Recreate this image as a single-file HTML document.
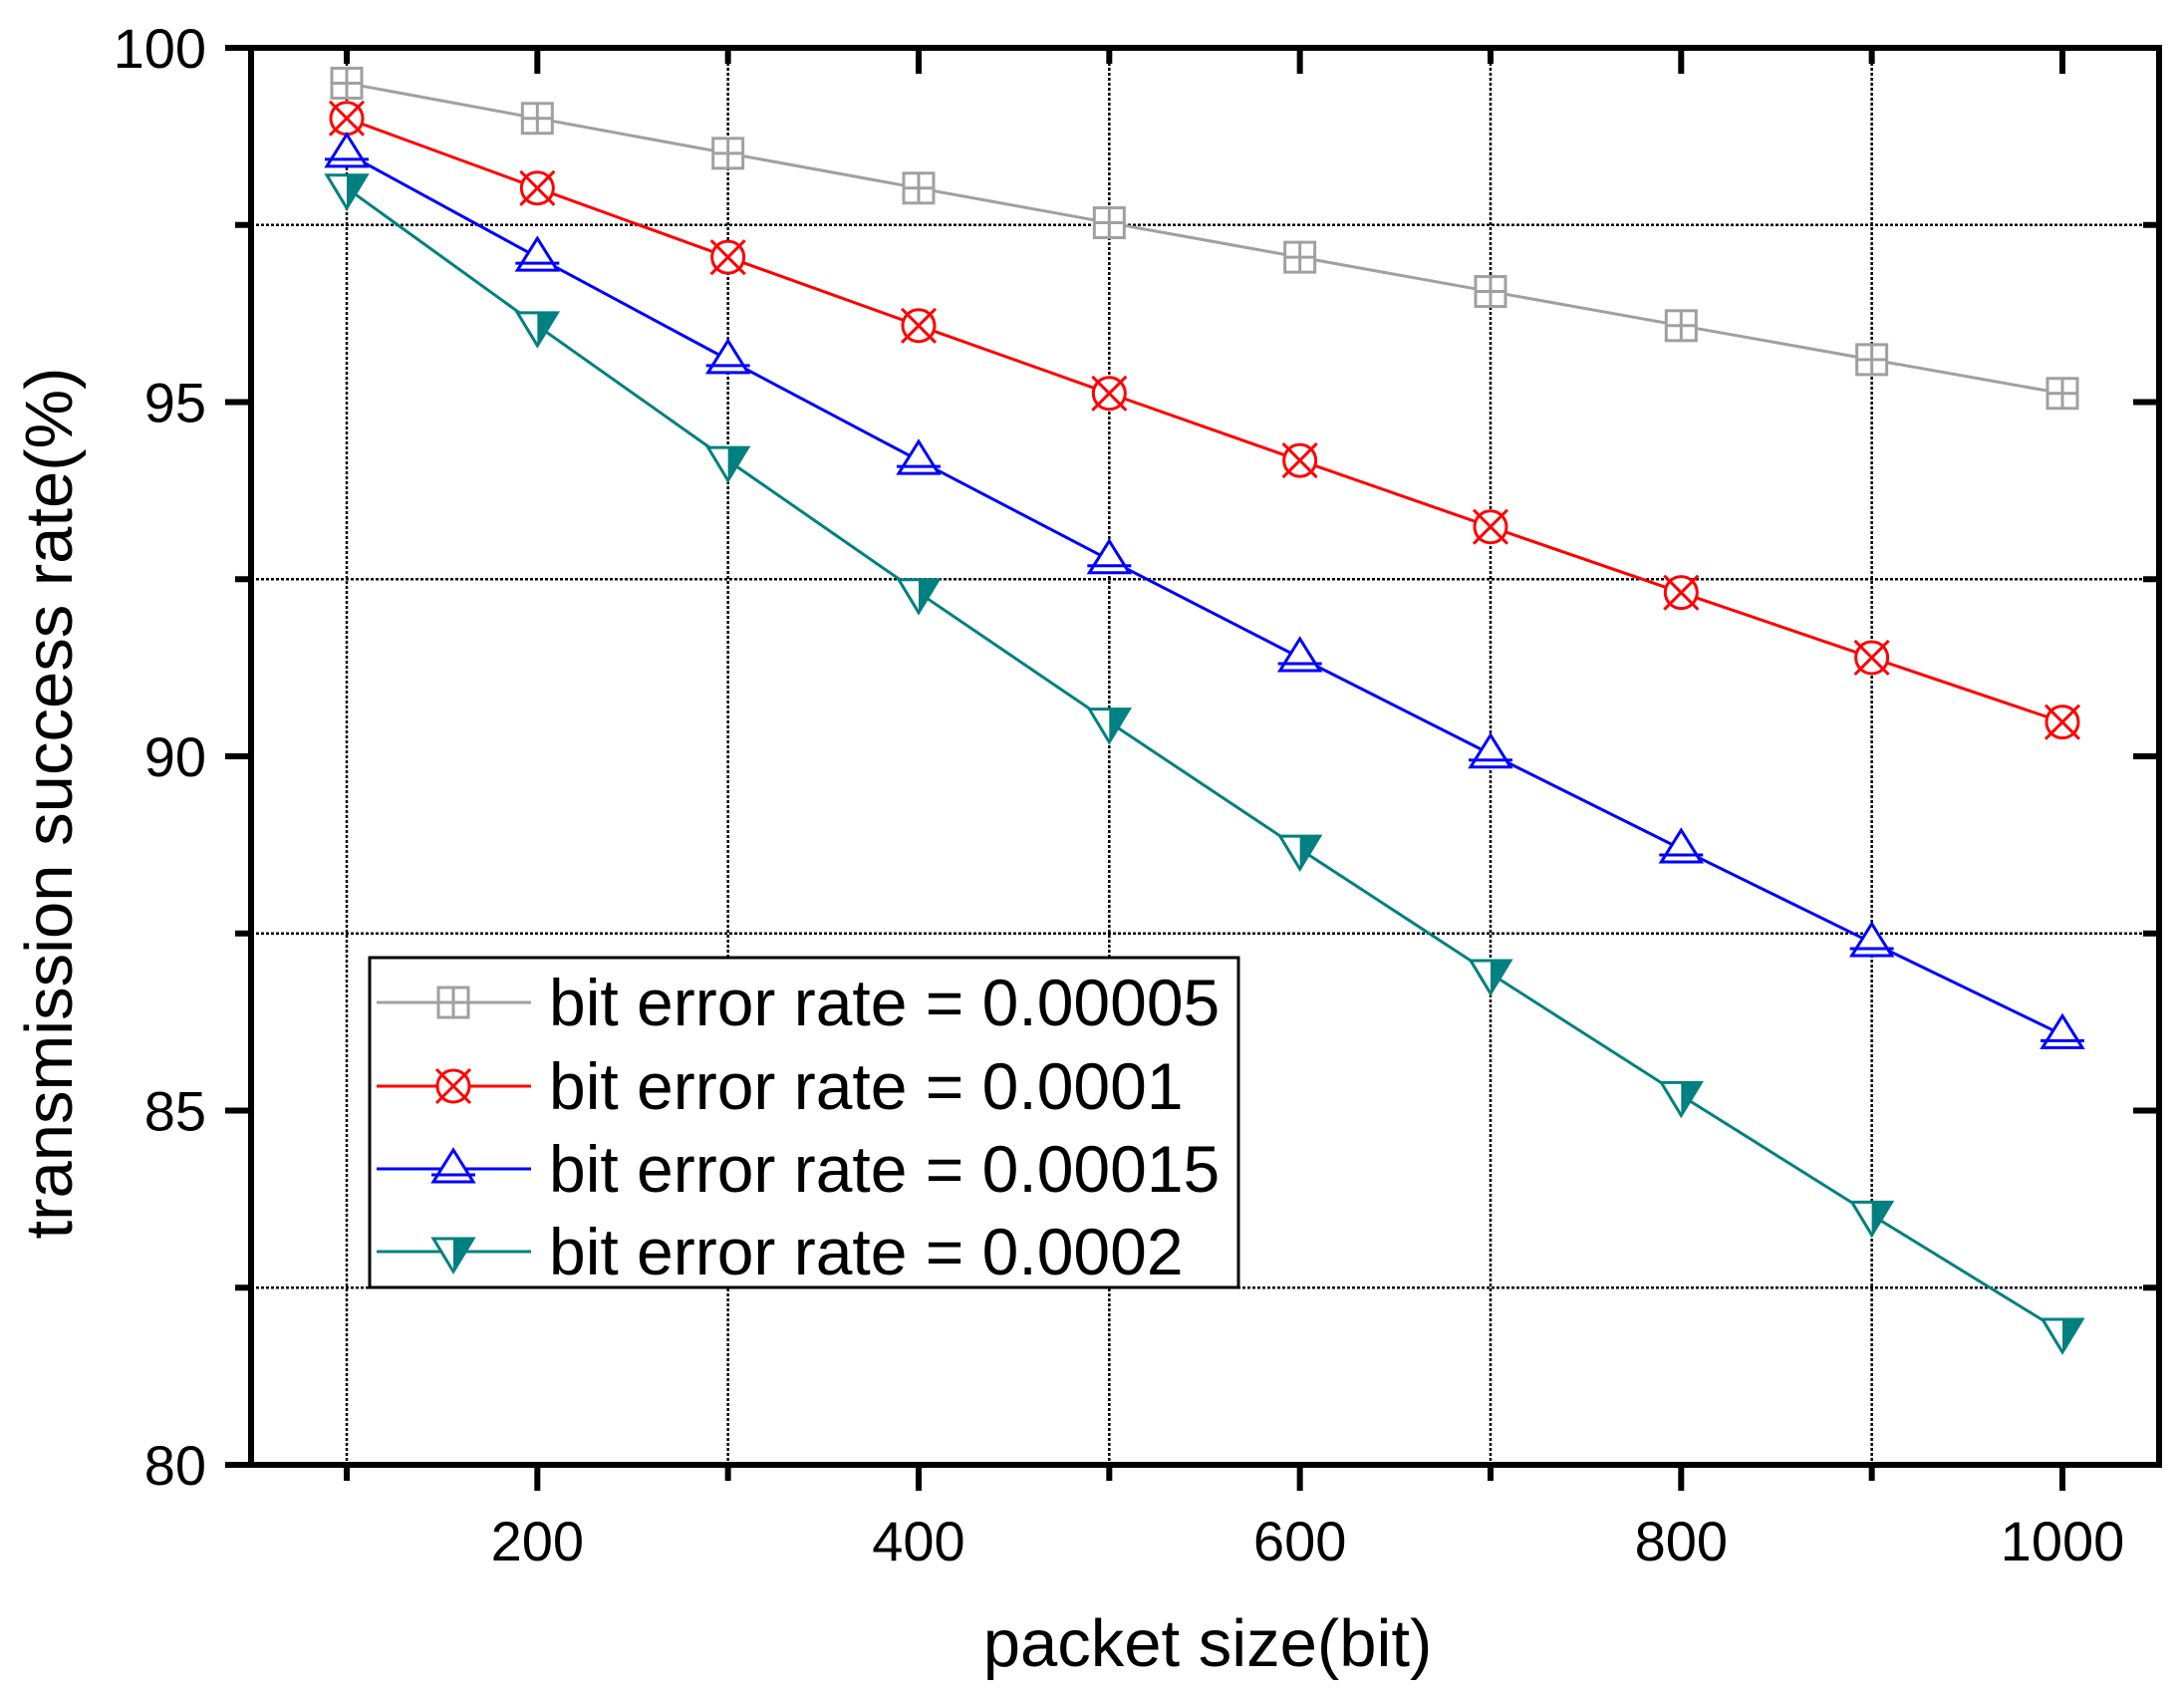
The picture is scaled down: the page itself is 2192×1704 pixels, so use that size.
<!DOCTYPE html>
<html><head><style>body{margin:0;background:#fff}svg{display:block}</style></head>
<body>
<svg id="s" width="2192" height="1704" xmlns="http://www.w3.org/2000/svg" font-family="Liberation Sans, Arial, sans-serif">
</svg>
<script>
const s=document.getElementById('s');
const L=252,R=2167,T=48,B=1470;
const X=v=>348+(v-100)*1.9133, Y=v=>T+(100-v)*(B-T)/20;
let h='';
[100,300,500,700,900].forEach(v=>h+=`<line x1="${X(v)}" y1="${T}" x2="${X(v)}" y2="${B}" stroke="#000" stroke-width="2.5" stroke-dasharray="3,2"/>`);
[97.5,92.5,87.5,82.5].forEach(v=>h+=`<line x1="${L}" y1="${Y(v)}" x2="${R}" y2="${Y(v)}" stroke="#000" stroke-width="2.5" stroke-dasharray="3,2"/>`);
for(let v=80;v<=100;v+=2.5){const big=v%5==0,len=big?26:16;h+=`<line x1="${L-len}" y1="${Y(v)}" x2="${L}" y2="${Y(v)}" stroke="#000" stroke-width="6"/><line x1="${R-len}" y1="${Y(v)}" x2="${R}" y2="${Y(v)}" stroke="#000" stroke-width="6"/>`;
 if(big)h+=`<text x="207" y="${Y(v)+20}" font-size="56" text-anchor="end">${v}</text>`;}
for(let v=100;v<=1000;v+=100){const big=v%200==0,len=big?26:16;h+=`<line x1="${X(v)}" y1="${B}" x2="${X(v)}" y2="${B+len}" stroke="#000" stroke-width="6"/><line x1="${X(v)}" y1="${T}" x2="${X(v)}" y2="${T+len}" stroke="#000" stroke-width="6"/>`;
 if(big)h+=`<text x="${X(v)}" y="1566" font-size="56" text-anchor="middle">${v}</text>`;}
h+=`<rect x="${L}" y="${T}" width="${R-L}" height="${B-T}" fill="none" stroke="#000" stroke-width="6"/>`;
h+=`<text x="1212" y="1672" font-size="67" text-anchor="middle">packet size(bit)</text>`;
h+=`<text transform="translate(72,806) rotate(-90)" font-size="67" text-anchor="middle">transmission success rate(%)</text>`;
const ser=[[0.00005,'#a0a0a0','sq'],[0.0001,'#ff0000','ci'],[0.00015,'#0000ff','tu'],[0.0002,'#008080','td']];
function mk(t,c,x,y){const r=15;
 if(t=='sq')return `<rect x="${x-r}" y="${y-r}" width="${2*r}" height="${2*r}" fill="#fff" stroke="${c}" stroke-width="3"/><line x1="${x-r}" y1="${y}" x2="${x+r}" y2="${y}" stroke="${c}" stroke-width="3"/><line x1="${x}" y1="${y-r}" x2="${x}" y2="${y+r}" stroke="${c}" stroke-width="3"/>`;
 if(t=='ci')return `<circle cx="${x}" cy="${y}" r="${r+1}" fill="#fff" stroke="${c}" stroke-width="3"/><line x1="${x-r-2}" y1="${y-r-2}" x2="${x+r+2}" y2="${y+r+2}" stroke="${c}" stroke-width="3"/><line x1="${x-r-2}" y1="${y+r+2}" x2="${x+r+2}" y2="${y-r-2}" stroke="${c}" stroke-width="3"/>`;
 if(t=='tu')return `<polygon points="${x},${y-r-4} ${x-r-5},${y+r-2} ${x+r+5},${y+r-2}" fill="#fff" stroke="${c}" stroke-width="3"/><line x1="${x-r-7}" y1="${y+6}" x2="${x+r+7}" y2="${y+6}" stroke="${c}" stroke-width="3"/>`;
 return `<polygon points="${x-r-5},${y-r+2} ${x+r+5},${y-r+2} ${x},${y+r+5}" fill="#fff" stroke="${c}" stroke-width="3"/><polygon points="${x},${y-r+2} ${x+r+5},${y-r+2} ${x},${y+r+5}" fill="${c}"/>`;}
ser.forEach(([p,c,t])=>{let pts=[];for(let n=100;n<=1000;n+=100)pts.push([X(n),Y(100*Math.pow(1-p,n))]);
 h+=`<polyline points="${pts.map(a=>a.join(',')).join(' ')}" fill="none" stroke="${c}" stroke-width="3"/>`;
 pts.forEach(a=>h+=mk(t,c,a[0],a[1]));});
h+=`<rect x="371" y="961" width="872" height="331" fill="#fff" stroke="#000" stroke-width="3"/>`;
const lab=['0.00005','0.0001','0.00015','0.0002'],ry=[1006,1090,1173,1256];
ser.forEach(([p,c,t],i)=>{h+=`<line x1="378" y1="${ry[i]}" x2="533" y2="${ry[i]}" stroke="${c}" stroke-width="3"/>`+mk(t,c,455,ry[i])+`<text x="551" y="${ry[i]+23}" font-size="66">bit error rate = ${lab[i]}</text>`;});
s.innerHTML=h;
</script>
</body></html>
